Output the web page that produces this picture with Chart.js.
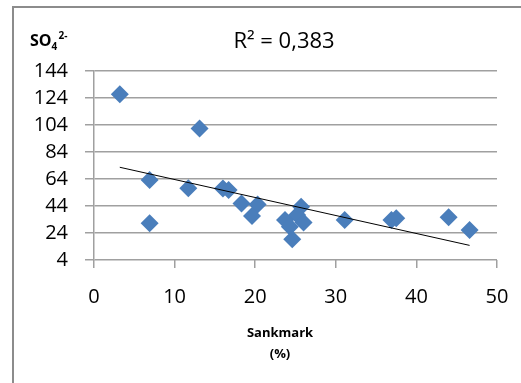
<!DOCTYPE html>
<html>
<head>
<meta charset="utf-8">
<script src="https://cdn.jsdelivr.net/npm/chart.js@4"></script>
<style>
  html, body { margin: 0; padding: 0; background: #fff; }
  #wrap { position: relative; width: 521px; height: 383px; }
  #frame { position: absolute; left: 12px; top: 6px; width: 530px; height: 400px;
           border-left: 2px solid #8c8c8c; border-top: 2px solid #8c8c8c; box-sizing: border-box; }
  canvas { position: absolute; left: 0; top: 0; }
</style>
</head>
<body>
<div id="wrap">
  <div id="frame"></div>
  <canvas id="graph-canvas" width="521" height="383"></canvas>
</div>
<script>
// sankmark (%) and sulfate values
var sankmark = [3.2, 13.1, 6.9, 6.9, 11.7, 16.0, 16.7, 18.3, 20.3, 19.6, 23.7,
                24.3, 24.6, 25.7, 25.2, 26.0, 31.1, 36.9, 37.5, 44.0, 46.6];
var so4 = [126.7, 101.5, 63.3, 31.2, 57.1, 57.0, 55.9, 45.8, 45.2, 36.6, 33.6,
           28.7, 19.3, 43.5, 37.3, 31.8, 33.6, 33.6, 34.9, 35.6, 26.2];
var yTicks = [4, 24, 44, 64, 84, 104, 124, 144];
var xTicks = [0, 10, 20, 30, 40, 50];
var titleText = 'R\u00B2 = 0,383';
var xTitle = ['Sankmark', '(%)'];

// linear trendline (least squares) from the data
var n = sankmark.length, mx = 0, my = 0;
for (var i = 0; i < n; i++) { mx += sankmark[i]; my += so4[i]; }
mx /= n; my /= n;
var sxy = 0, sxx = 0;
for (var i = 0; i < n; i++) {
  sxy += (sankmark[i] - mx) * (so4[i] - my);
  sxx += (sankmark[i] - mx) * (sankmark[i] - mx);
}
var slope = sxy / sxx, icpt = my - slope * mx;
var xmin = Math.min.apply(null, sankmark), xmax = Math.max.apply(null, sankmark);
var trend = [{x: xmin, y: icpt + slope * xmin}, {x: xmax, y: icpt + slope * xmax}];

var points = [];
for (var i = 0; i < n; i++) points.push({x: sankmark[i], y: so4[i]});

var FONT = "'Open Sans', 'DejaVu Sans', sans-serif";

// texts around the plot
var textPlugin = {
  id: 'texts',
  afterDraw: function(chart) {
    var ctx = chart.ctx;
    ctx.save();
    ctx.fillStyle = '#000';
    ctx.textBaseline = 'alphabetic';
    // SO4 2- label
    ctx.textAlign = 'left';
    ctx.font = 'bold 16px ' + FONT;
    ctx.fillText('SO', 30, 46);
    var w = ctx.measureText('SO').width;
    ctx.font = 'bold 10px ' + FONT;
    ctx.fillText('4', 30 + w, 50);
    ctx.fillText('2-', 30 + w + 7, 39);
    // title
    ctx.font = '22px ' + FONT;
    ctx.textAlign = 'center';
    ctx.fillText(titleText, 284, 48);
    // x axis title
    ctx.font = 'bold 13px ' + FONT;
    ctx.fillText(xTitle[0], 280, 337);
    ctx.fillText(xTitle[1], 280, 358);
    ctx.restore();
  }
};

var ctx = document.getElementById('graph-canvas');
var chart = new Chart(ctx, {
  type: 'scatter',
  data: {
    datasets: [
      {
        label: 'SO4',
        data: points,
        pointStyle: 'rectRot',
        pointRadius: 9,
        pointBorderWidth: 0,
        backgroundColor: '#4a7ebb',
        borderColor: '#4a7ebb',
        order: 2
      },
      {
        label: 'trend',
        type: 'line',
        data: trend,
        borderColor: '#000',
        borderWidth: 1,
        pointRadius: 0,
        fill: false,
        order: 1
      }
    ]
  },
  options: {
    responsive: false,
    animation: false,
    layout: { padding: { left: 0, right: 24, top: 71, bottom: 0 } },
    plugins: { legend: { display: false }, tooltip: { enabled: false }, title: { display: false } },
    scales: {
      x: {
        type: 'linear',
        min: 0, max: 50,
        afterBuildTicks: function(s) { s.ticks = xTicks.map(function(v) { return {value: v}; }); },
        afterFit: function(s) { s.height = 123; s.paddingLeft = 0; s.paddingRight = 0; },
        grid: { drawOnChartArea: false, drawTicks: true, tickLength: 8, color: '#a0a0a0', lineWidth: 1.5 },
        border: { display: false },
        ticks: { color: '#000', font: { family: FONT, size: 20 }, padding: 17, maxRotation: 0 }
      },
      y: {
        type: 'linear',
        min: 4, max: 144,
        afterBuildTicks: function(s) { s.ticks = yTicks.map(function(v) { return {value: v}; }); },
        afterFit: function(s) { s.width = 94; s.paddingTop = 0; s.paddingBottom = 0; },
        grid: { drawOnChartArea: true, drawTicks: true, tickLength: 9, color: '#a0a0a0', lineWidth: 1.5 },
        border: { display: true, color: '#a0a0a0', width: 1.5 },
        ticks: { color: '#000', font: { family: FONT, size: 20 }, padding: 17 }
      }
    }
  },
  plugins: [textPlugin]
});
</script>
</body>
</html>
